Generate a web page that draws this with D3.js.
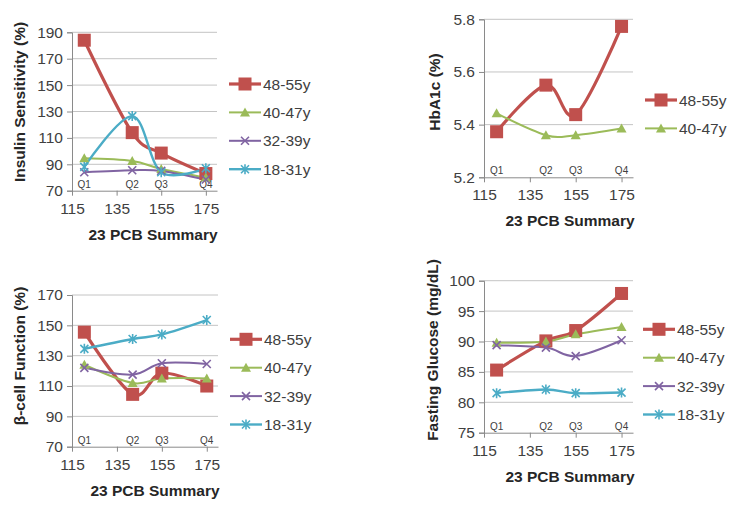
<!DOCTYPE html>
<html><head><meta charset="utf-8">
<script src="https://cdn.jsdelivr.net/npm/d3@7"></script>
<style>body{margin:0;background:#fff} text{font-family:"Liberation Sans",Arial,sans-serif}</style>
</head><body><svg id="c" width="743" height="515"></svg>
<script>
const pcbSummary = [120.5, 142, 155, 175];
const quartiles = ["Q1", "Q2", "Q3", "Q4"];
const ageGroups = ["48-55y", "40-47y", "32-39y", "18-31y"];
const xTicks = [115, 135, 155, 175];

const insulinSensitivity = [
  [184, 114, 98.5, 83],
  [94.5, 92.5, 86.5, 80],
  [84, 85.5, 85, 78.5],
  [88, 126.5, 84, 87]
];
const insulinTicks = [70, 90, 110, 130, 150, 170, 190];

const hba1c = [
  [5.373, 5.55, 5.438, 5.773],
  [5.443, 5.36, 5.36, 5.385]
];
const hba1cTicks = [5.2, 5.4, 5.6, 5.8];

const betaCell = [
  [145.5, 104.5, 118.5, 110],
  [124, 112, 115, 115],
  [122, 117.5, 125, 124.5],
  [134.5, 141, 144, 153.5]
];
const betaTicks = [70, 90, 110, 130, 150, 170];

const glucose = [
  [85.3, 90.1, 91.8, 97.9],
  [89.8, 90.0, 91.2, 92.4],
  [89.4, 89.0, 87.6, 90.2],
  [81.5, 82.1, 81.5, 81.6]
];
const glucoseTicks = [75, 80, 85, 90, 95, 100];

const colors = ["#C0504D", "#9BBB59", "#8064A2", "#4BACC6"];
const markers = ["square", "triangle", "cross", "star"];
const widths = [3.2, 2, 2, 2.4];

const panels = [
  {data: insulinSensitivity, ticks: insulinTicks, fmt: d3.format("d"), title: "Insulin Sensitivity (%)",
   left: 72, right: 217, top: 32.3, bottom: 190.7, ytx: 25, yty: 102, xtx: 153, lx: 229, ly: 84},
  {data: hba1c, ticks: hba1cTicks, fmt: d3.format(".1f"), title: "HbA1c (%)",
   left: 484, right: 633, top: 19.3, bottom: 177.3, ytx: 440, yty: 92, xtx: 570, lx: 645, ly: 100},
  {data: betaCell, ticks: betaTicks, fmt: d3.format("d"), title: "β-cell Function (%)",
   left: 72, right: 218, top: 295, bottom: 446.7, ytx: 25, yty: 356, xtx: 155, lx: 230, ly: 339.3},
  {data: glucose, ticks: glucoseTicks, fmt: d3.format("d"), title: "Fasting Glucose (mg/dL)",
   left: 484, right: 633, top: 280.7, bottom: 432.7, ytx: 438, yty: 350, xtx: 570, lx: 643, ly: 329.3}
];

const svg = d3.select("#c");

function drawMarker(g, type, x, y, color) {
  if (type === "square") {
    g.append("rect").attr("x", x - 6.5).attr("y", y - 6.5).attr("width", 13).attr("height", 13).attr("fill", color);
  } else if (type === "triangle") {
    g.append("path").attr("d", `M${x},${y - 5}L${x + 5},${y + 4}L${x - 5},${y + 4}Z`).attr("fill", color);
  } else if (type === "cross") {
    g.append("path").attr("d", `M${x - 4},${y - 4}L${x + 4},${y + 4}M${x - 4},${y + 4}L${x + 4},${y - 4}`)
      .attr("stroke", color).attr("stroke-width", 1.6);
  } else {
    g.append("path").attr("d", `M${x - 4},${y - 4}L${x + 4},${y + 4}M${x - 4},${y + 4}L${x + 4},${y - 4}M${x},${y - 5}L${x},${y + 5}`)
      .attr("stroke", color).attr("stroke-width", 1.6);
  }
}

panels.forEach(p => {
  const g = svg.append("g");
  const x = d3.scaleLinear().domain([115, 180]).range([p.left, p.right]);
  const y = d3.scaleLinear().domain([p.ticks[0], p.ticks[p.ticks.length - 1]]).range([p.bottom, p.top]);

  // gridlines
  g.append("g").selectAll("line").data(p.ticks.slice(1)).join("line")
    .attr("x1", p.left).attr("x2", p.right).attr("y1", d => y(d)).attr("y2", d => y(d))
    .attr("stroke", "#c4c4c4").attr("stroke-width", 1);

  // y axis
  const ya = g.append("g").attr("transform", `translate(${p.left},0)`)
    .call(d3.axisLeft(y).tickValues(p.ticks).tickFormat(p.fmt).tickSize(5).tickPadding(4));
  ya.select(".domain").attr("stroke", "#8a8a8a");
  ya.selectAll(".tick line").attr("stroke", "#8a8a8a");
  ya.selectAll("text").attr("font-size", 15.5).attr("fill", "#404040").attr("font-family", '"Liberation Sans",Arial,sans-serif');

  // x axis
  const xa = g.append("g").attr("transform", `translate(0,${p.bottom})`)
    .call(d3.axisBottom(x).tickValues(xTicks).tickSize(5).tickPadding(7).tickSizeOuter(0));
  xa.select(".domain").attr("stroke", "#8a8a8a");
  xa.selectAll(".tick line").attr("stroke", "#8a8a8a");
  xa.selectAll("text").attr("font-size", 15.5).attr("fill", "#404040").attr("font-family", '"Liberation Sans",Arial,sans-serif');

  // quartile labels
  g.append("g").selectAll("text").data(quartiles).join("text")
    .attr("x", (d, i) => x(pcbSummary[i])).attr("y", p.bottom - 3)
    .attr("text-anchor", "middle").attr("font-size", 10).attr("fill", "#404040").text(d => d);

  // series
  const line = d3.line().x((d, i) => x(pcbSummary[i])).y(d => y(d)).curve(d3.curveCardinal.tension(0));
  p.data.forEach((vals, si) => {
    g.append("path").attr("d", line(vals)).attr("fill", "none")
      .attr("stroke", colors[si]).attr("stroke-width", widths[si]).attr("stroke-linejoin", "round");
  });
  p.data.forEach((vals, si) => {
    vals.forEach((v, i) => drawMarker(g, markers[si], x(pcbSummary[i]), y(v), colors[si]));
  });

  // titles
  g.append("text").attr("x", p.xtx).attr("y", p.bottom + 49).attr("text-anchor", "middle")
    .attr("font-size", 15.5).attr("font-weight", "bold").attr("fill", "#262626").text("23 PCB Summary");
  g.append("text").attr("transform", `translate(${p.ytx},${p.yty}) rotate(-90)`).attr("text-anchor", "middle")
    .attr("font-size", 15.5).attr("font-weight", "bold").attr("fill", "#262626").text(p.title);

  // legend
  p.data.forEach((vals, si) => {
    const ly = p.ly + si * 28.4;
    g.append("line").attr("x1", p.lx).attr("x2", p.lx + 32).attr("y1", ly).attr("y2", ly)
      .attr("stroke", colors[si]).attr("stroke-width", widths[si]);
    drawMarker(g, markers[si], p.lx + 16, ly, colors[si]);
    g.append("text").attr("x", p.lx + 34).attr("y", ly + 5.5).attr("font-size", 15.5)
      .attr("fill", "#404040").text(ageGroups[si]);
  });
});
</script></body></html>
